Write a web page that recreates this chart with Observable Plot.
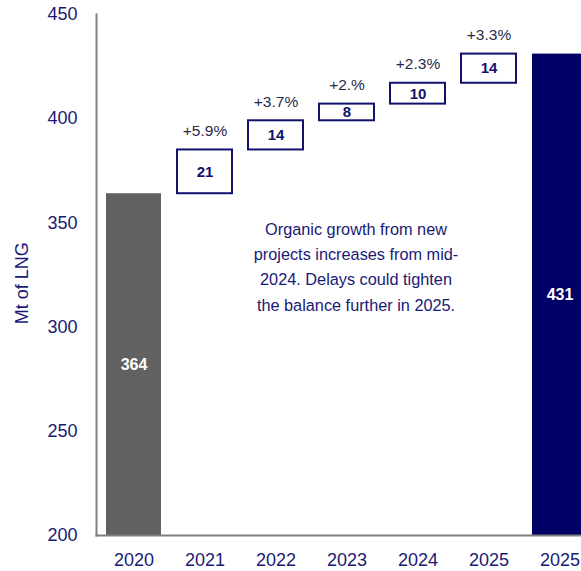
<!DOCTYPE html>
<html>
<head>
<meta charset="utf-8">
<script src="https://cdn.jsdelivr.net/npm/d3@7"></script>
<script src="https://cdn.jsdelivr.net/npm/@observablehq/plot@0.6"></script>
<style>
  html, body { margin: 0; padding: 0; background: #fff; overflow: hidden; }
  #chart svg { display: block; }
</style>
</head>
<body>
<div id="chart"></div>
<script>
// ---- Data ----
const categories = ["2020", "2021", "2022", "2023", "2024", "2025", "2025 total"];
const tickLabels = ["2020", "2021", "2022", "2023", "2024", "2025", "2025"];
const startYear = "2020";
const startValue = 364;
const stepYears = ["2021", "2022", "2023", "2024", "2025"];
const increments = [21, 14, 8, 10, 14];
const growthLabels = ["+5.9%", "+3.7%", "+2.%", "+2.3%", "+3.3%"];
const endYear = "2025 total";
const endValue = 431;
const yTicks = [200, 250, 300, 350, 400, 450];
const yTitle = "Mt of LNG";
const note = "Organic growth from new\nprojects increases from mid-\n2024. Delays could tighten\nthe balance further in 2025.";

// ---- Derived tables ----
const totals = [
  {cat: startYear, value: startValue, color: "#616161"},
  {cat: endYear, value: endValue, color: "#000066"}
];
let running = startValue;
const steps = stepYears.map((cat, i) => {
  const lo = running;
  const hi = running + increments[i];
  running = hi;
  return {cat, lo, hi, inc: increments[i], growth: growthLabels[i]};
});

const navy = "#1a1a75";
const font = "'Liberation Sans', Arial, sans-serif";

const chart = Plot.plot({
  width: 581,
  height: 571,
  marginLeft: 96,
  marginRight: 0,
  marginTop: 14,
  marginBottom: 36,
  style: {fontFamily: font, background: "#fff"},
  x: {
    type: "band",
    domain: categories,
    range: [96, 596.5],
    paddingInner: 0.23,
    paddingOuter: 0.115
  },
  y: {domain: [200, 450], range: [535, 14]},
  marks: [
    Plot.barY(totals, {x: "cat", y1: 200, y2: "value", fill: "color"}),
    Plot.barY(steps, {x: "cat", y1: "lo", y2: "hi", fill: "white", stroke: "#11116e", strokeWidth: 2}),
    Plot.text(steps, {x: "cat", y: d => (d.lo + d.hi) / 2, text: d => String(d.inc), fill: "#11116e", fontWeight: "bold", fontSize: 15}),
    Plot.text(steps, {x: "cat", y: "hi", text: "growth", dy: -19, fill: "#2a2a48", fontSize: 15.5}),
    Plot.text(totals, {x: "cat", y: d => (200 + d.value) / 2, text: d => String(d.value), fill: "white", fontWeight: "bold", fontSize: 16}),
    Plot.text([note], {x: () => "2023", y: () => 330, text: d => d, dx: 9, fill: navy, fontSize: 16.3, lineHeight: 1.55}),
    Plot.frame({anchor: "left", stroke: "#808080", strokeWidth: 2}),
    Plot.frame({anchor: "bottom", stroke: "#808080", strokeWidth: 2}),
    Plot.axisY({ticks: yTicks, tickSize: 0, tickPadding: 19, fontSize: 18, fill: navy, label: null}),
    Plot.axisX({tickSize: 0, tickPadding: 18, fontSize: 18, fill: navy, label: null,
      tickFormat: d => tickLabels[categories.indexOf(d)]}),
    Plot.text([yTitle], {frameAnchor: "left", y: () => 321, dx: -74, rotate: -90, textAnchor: "middle", text: d => d, fill: navy, fontSize: 18})
  ]
});
document.getElementById("chart").append(chart);
</script>
</body>
</html>
